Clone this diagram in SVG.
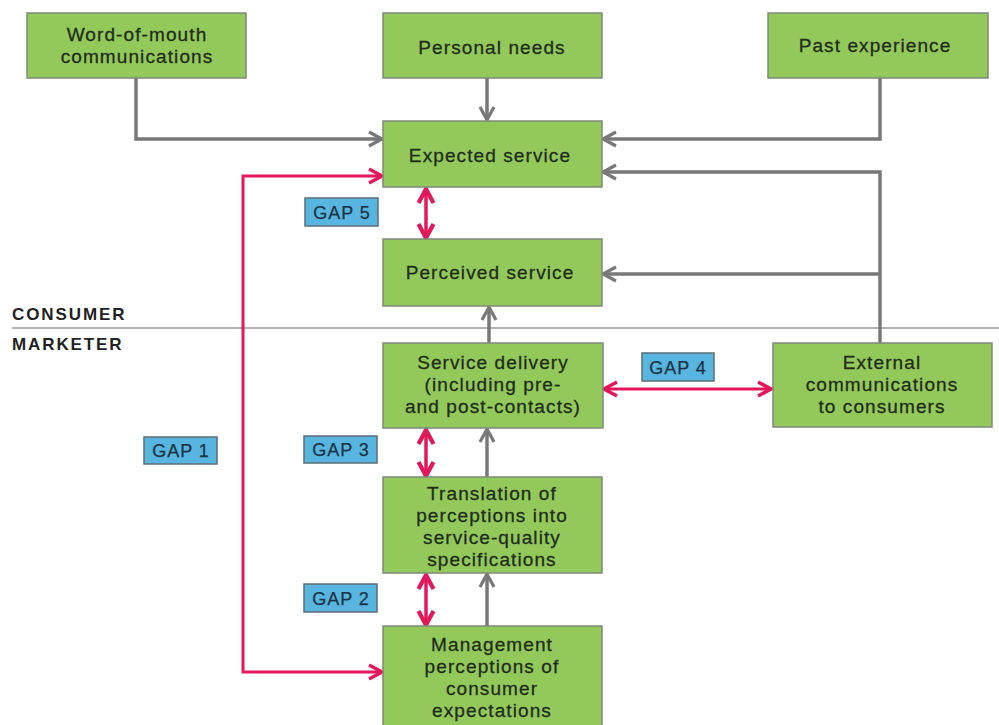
<svg xmlns="http://www.w3.org/2000/svg" width="999" height="725" viewBox="0 0 999 725">
<style>
.box{fill:#93c85b;stroke:#7f8a7a;stroke-width:1.5}
.t{font-family:"Liberation Sans",Arial,sans-serif;font-size:19px;letter-spacing:1.1px;fill:#1f2d1a;stroke:#1f2d1a;stroke-width:0.3;text-anchor:middle}
.gap{fill:#58b5df;stroke:#5b6e76;stroke-width:1.5}
.gt{font-family:"Liberation Sans",Arial,sans-serif;font-size:18px;letter-spacing:1px;fill:#1b3344;stroke:#1b3344;stroke-width:0.25;text-anchor:middle}
.side{font-family:"Liberation Sans",Arial,sans-serif;font-size:17px;font-weight:bold;letter-spacing:1.9px;fill:#222}
.g{fill:none;stroke:#787878;stroke-width:3.5}
.r{fill:none;stroke:#e3185a;stroke-width:3}
.rv{fill:none;stroke:#e3185a;stroke-width:3.5}
</style>
<defs>
<marker id="ga" markerUnits="userSpaceOnUse" markerWidth="20" markerHeight="20" viewBox="0 0 20 20" refX="16" refY="10" orient="auto-start-reverse">
<path d="M3,3 L16,10 L3,17" fill="none" stroke="#787878" stroke-width="3.2"/>
</marker>
<marker id="ra" markerUnits="userSpaceOnUse" markerWidth="20" markerHeight="20" viewBox="0 0 20 20" refX="16" refY="10" orient="auto-start-reverse">
<path d="M3,3 L16,10 L3,17" fill="none" stroke="#e3185a" stroke-width="3.6"/>
</marker>
<marker id="rb" markerUnits="userSpaceOnUse" markerWidth="22" markerHeight="22" viewBox="0 0 22 22" refX="17" refY="11" orient="auto-start-reverse">
<path d="M3,3.5 L17,11 L3,18.5" fill="none" stroke="#e3185a" stroke-width="4.2"/>
</marker>
</defs>
<rect width="999" height="725" fill="#fff"/>
<line x1="12" y1="328" x2="999" y2="328" stroke="#9a9a9a" stroke-width="1.5"/>
<text class="side" x="12" y="320">CONSUMER</text>
<text class="side" x="12" y="350">MARKETER</text>
<g id="connectors">
<path class="g" d="M136,78 V139 H382" marker-end="url(#ga)"/>
<path class="g" d="M487,78 V120" marker-end="url(#ga)"/>
<path class="g" d="M880,78 V139 H603" marker-end="url(#ga)"/>
<path class="g" d="M880,344 V172 H603" marker-end="url(#ga)"/>
<path class="g" d="M880,274 H603" marker-end="url(#ga)"/>
<path class="g" d="M489,343 V307" marker-end="url(#ga)"/>
<path class="g" d="M487,477 V429" marker-end="url(#ga)"/>
<path class="g" d="M487,626 V574" marker-end="url(#ga)"/>
<path class="r" d="M382,176 H243 V672 H382" marker-start="url(#ra)" marker-end="url(#ra)"/>
<path class="rv" d="M426,189 V238" marker-start="url(#rb)" marker-end="url(#rb)"/>
<path class="r" d="M604,389 H771" marker-start="url(#ra)" marker-end="url(#ra)"/>
<path class="rv" d="M426,430 V476" marker-start="url(#rb)" marker-end="url(#rb)"/>
<path class="rv" d="M426,575 V625" marker-start="url(#rb)" marker-end="url(#rb)"/>
</g>
<g id="word-of-mouth"><rect class="box" x="27" y="13" width="219" height="65"/><text class="t" x="137" y="41">Word-of-mouth</text><text class="t" x="137" y="63">communications</text></g>
<g id="personal-needs"><rect class="box" x="383" y="13" width="219" height="65"/><text class="t" x="492" y="54">Personal needs</text></g>
<g id="past-experience"><rect class="box" x="768" y="13" width="220" height="65"/><text class="t" x="875" y="52">Past experience</text></g>
<g id="expected-service"><rect class="box" x="383" y="121" width="219" height="66"/><text class="t" x="490" y="162">Expected service</text></g>
<g id="perceived-service"><rect class="box" x="383" y="239" width="219" height="67"/><text class="t" x="490" y="279">Perceived service</text></g>
<g id="service-delivery"><rect class="box" x="383" y="343" width="220" height="85"/><text class="t" x="493" y="369">Service delivery</text><text class="t" x="493" y="391">(including pre-</text><text class="t" x="493" y="413">and post-contacts)</text></g>
<g id="external-communications"><rect class="box" x="773" y="343" width="219" height="84"/><text class="t" x="882" y="369">External</text><text class="t" x="882" y="391">communications</text><text class="t" x="882" y="413">to consumers</text></g>
<g id="translation"><rect class="box" x="383" y="477" width="219" height="96"/><text class="t" x="492" y="500">Translation of</text><text class="t" x="492" y="522">perceptions into</text><text class="t" x="492" y="544">service-quality</text><text class="t" x="492" y="566">specifications</text></g>
<g id="management"><rect class="box" x="383" y="626" width="219" height="105"/><text class="t" x="492" y="651">Management</text><text class="t" x="492" y="673">perceptions of</text><text class="t" x="492" y="695">consumer</text><text class="t" x="492" y="717">expectations</text></g>
<g id="gap5"><rect class="gap" x="305" y="198" width="73" height="28"/><text class="gt" x="342" y="219">GAP 5</text></g>
<g id="gap4"><rect class="gap" x="642" y="353" width="72" height="28"/><text class="gt" x="678" y="374">GAP 4</text></g>
<g id="gap3"><rect class="gap" x="304" y="436" width="73" height="27"/><text class="gt" x="341" y="456">GAP 3</text></g>
<g id="gap2"><rect class="gap" x="304" y="584" width="73" height="28"/><text class="gt" x="341" y="605">GAP 2</text></g>
<g id="gap1"><rect class="gap" x="144" y="437" width="73" height="27"/><text class="gt" x="181" y="457">GAP 1</text></g>
</svg>
